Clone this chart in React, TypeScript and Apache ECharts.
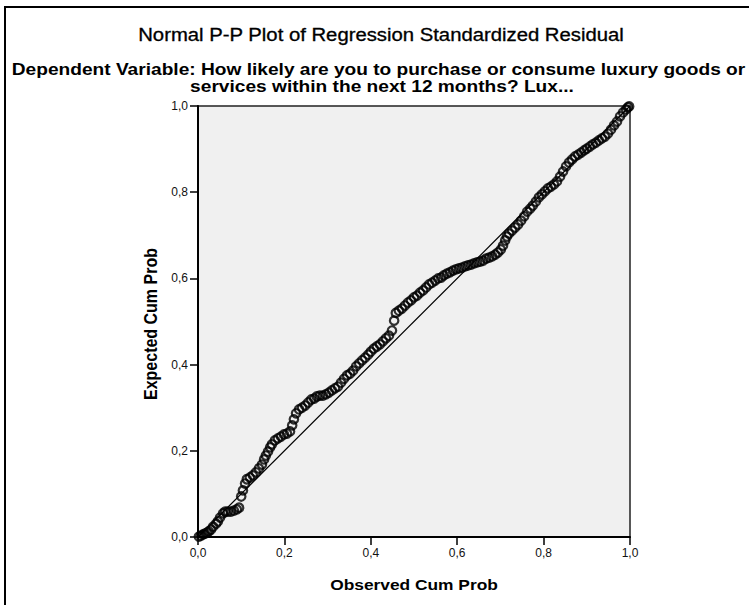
import React, { useEffect, useRef } from "react";
import * as echarts from "echarts";

// ---- Texts ----
const titleText = "Normal P-P Plot of Regression Standardized Residual";
const subtitleLines = [
  "Dependent Variable: How likely are you to purchase or consume luxury goods or",
  "services within the next 12 months? Lux...",
];
const xAxisName = "Observed Cum Prob";
const yAxisName = "Expected Cum Prob";

// ---- Tick labels (SPSS decimal comma) ----
const tickValues = [0, 0.2, 0.4, 0.6, 0.8, 1.0];
const tickLabels = ["0,0", "0,2", "0,4", "0,6", "0,8", "1,0"];

// ---- Data ----
const observed = [
  0.002, 0.007, 0.012, 0.016, 0.021, 0.025, 0.03, 0.035, 0.042, 0.046,
  0.051, 0.058, 0.063, 0.069, 0.076, 0.083, 0.09, 0.095, 0.1, 0.104,
  0.109, 0.113, 0.12, 0.127, 0.134, 0.141, 0.148, 0.153, 0.157, 0.162,
  0.167, 0.171, 0.178, 0.185, 0.192, 0.199, 0.206, 0.213, 0.218, 0.222,
  0.227, 0.234, 0.241, 0.248, 0.255, 0.262, 0.269, 0.275, 0.282, 0.289,
  0.296, 0.303, 0.31, 0.317, 0.324, 0.331, 0.338, 0.345, 0.352, 0.359,
  0.366, 0.373, 0.38, 0.387, 0.394, 0.4, 0.407, 0.414, 0.421, 0.428,
  0.435, 0.442, 0.449, 0.454, 0.458, 0.465, 0.472, 0.479, 0.486, 0.493,
  0.5, 0.507, 0.514, 0.521, 0.528, 0.535, 0.542, 0.549, 0.556, 0.563,
  0.569, 0.576, 0.583, 0.59, 0.597, 0.604, 0.611, 0.618, 0.625, 0.632,
  0.639, 0.646, 0.653, 0.66, 0.667, 0.674, 0.681, 0.688, 0.694, 0.701,
  0.706, 0.711, 0.715, 0.72, 0.727, 0.734, 0.741, 0.748, 0.755, 0.762,
  0.769, 0.775, 0.782, 0.789, 0.796, 0.803, 0.81, 0.817, 0.824, 0.831,
  0.838, 0.845, 0.852, 0.859, 0.866, 0.873, 0.88, 0.887, 0.894, 0.9,
  0.907, 0.914, 0.921, 0.928, 0.935, 0.942, 0.949, 0.956, 0.963, 0.97,
  0.977, 0.984, 0.991, 0.995, 0.998,
];
const expected = [
  0.001, 0.003, 0.006, 0.008, 0.01, 0.013, 0.017, 0.024, 0.031, 0.036,
  0.045, 0.055, 0.059, 0.059, 0.059, 0.061, 0.064, 0.068, 0.094, 0.108,
  0.124, 0.134, 0.138, 0.143, 0.15, 0.159, 0.168, 0.18, 0.189, 0.198,
  0.208, 0.215, 0.224, 0.229, 0.233, 0.238, 0.24, 0.245, 0.259, 0.273,
  0.287, 0.296, 0.3, 0.305, 0.312, 0.319, 0.321, 0.326, 0.328, 0.328,
  0.331, 0.335, 0.34, 0.345, 0.349, 0.358, 0.367, 0.375, 0.379, 0.386,
  0.396, 0.403, 0.41, 0.416, 0.423, 0.43, 0.437, 0.442, 0.447, 0.454,
  0.461, 0.467, 0.479, 0.502, 0.52, 0.525, 0.53, 0.537, 0.544, 0.549,
  0.556, 0.56, 0.567, 0.572, 0.579, 0.586, 0.59, 0.595, 0.6, 0.602,
  0.607, 0.611, 0.614, 0.618, 0.621, 0.623, 0.625, 0.628, 0.63, 0.632,
  0.635, 0.637, 0.639, 0.641, 0.646, 0.648, 0.651, 0.655, 0.66, 0.667,
  0.676, 0.688, 0.697, 0.704, 0.711, 0.718, 0.725, 0.734, 0.744, 0.755,
  0.762, 0.769, 0.778, 0.788, 0.795, 0.802, 0.809, 0.813, 0.818, 0.825,
  0.836, 0.848, 0.86, 0.869, 0.876, 0.883, 0.887, 0.892, 0.897, 0.901,
  0.906, 0.911, 0.915, 0.92, 0.925, 0.929, 0.936, 0.945, 0.955, 0.964,
  0.976, 0.985, 0.992, 0.997, 0.999,
];
const referenceLine = [
  [0, 0],
  [1, 1],
];

const FONT = "'Liberation Sans', Arial, sans-serif";

export default function App() {
  const ref = useRef<HTMLDivElement>(null);

  useEffect(() => {
    if (!ref.current) return;
    const chart = echarts.init(ref.current, null, { renderer: "svg" });
    const points = observed.map((o, i) => [o, expected[i]]);
    const fmt = (v: number) => {
      const idx = tickValues.findIndex((t) => Math.abs(t - v) < 1e-6);
      return idx >= 0 ? tickLabels[idx] : "";
    };
    const axisCommon = {
      type: "value",
      min: 0,
      max: 1,
      interval: 0.2,
      axisLine: { show: true, lineStyle: { color: "#000", width: 2 } },
      axisTick: { show: true, inside: false, length: 8, lineStyle: { color: "#000", width: 1.5 } },
      splitLine: { show: false },
      axisLabel: {
        color: "#111",
        fontSize: 12,
        fontFamily: FONT,
        margin: 10,
        formatter: fmt,
      },
    };
    chart.setOption({
      animation: false,
      backgroundColor: "#ffffff",
      grid: {
        left: 198,
        top: 106,
        width: 432,
        height: 431,
        show: true,
        backgroundColor: "#f0f0f0",
        borderColor: "#222",
        borderWidth: 1.5,
      },
      xAxis: { ...axisCommon },
      yAxis: { ...axisCommon },
      graphic: [
        {
          type: "rect",
          shape: { x: 5, y: 7, width: 770, height: 640 },
          style: { fill: "none", stroke: "#000", lineWidth: 2 },
          silent: true,
        },
        {
          type: "text",
          x: 381,
          y: 34.5,
          scaleX: 1.16,
          style: {
            text: titleText,
            fontSize: 17.5,
            fontFamily: FONT,
            fontWeight: "normal",
            fill: "#000",
            stroke: "#000",
            lineWidth: 0.3,
            align: "center",
            verticalAlign: "middle",
          },
        },
        {
          type: "text",
          x: 378.5,
          y: 69.5,
          scaleX: 1.16,
          style: {
            text: subtitleLines[0],
            fontSize: 16.5,
            fontFamily: FONT,
            fontWeight: "bold",
            fill: "#000",
            align: "center",
            verticalAlign: "middle",
          },
        },
        {
          type: "text",
          x: 382,
          y: 86,
          scaleX: 1.16,
          style: {
            text: subtitleLines[1],
            fontSize: 16.5,
            fontFamily: FONT,
            fontWeight: "bold",
            fill: "#000",
            align: "center",
            verticalAlign: "middle",
          },
        },
        {
          type: "text",
          x: 414,
          y: 584,
          scaleX: 1.12,
          style: {
            text: xAxisName,
            fontSize: 15.5,
            fontFamily: FONT,
            fontWeight: "bold",
            fill: "#000",
            align: "center",
            verticalAlign: "middle",
          },
        },
        {
          type: "text",
          x: 151,
          y: 324,
          rotation: Math.PI / 2,
          scaleY: 1.12,
          style: {
            text: yAxisName,
            fontSize: 16,
            fontFamily: FONT,
            fontWeight: "bold",
            fill: "#000",
            align: "center",
            verticalAlign: "middle",
          },
        },
      ],
      series: [
        {
          type: "line",
          data: referenceLine,
          symbol: "none",
          lineStyle: { color: "#000", width: 1.2 },
          silent: true,
          z: 3,
        },
        {
          type: "scatter",
          data: points,
          symbol: "circle",
          symbolSize: 8.5,
          itemStyle: { color: "rgba(0,0,0,0)", borderColor: "#000", borderWidth: 2.2 },
          z: 2,
        },
      ],
    });
    return () => chart.dispose();
  }, []);

  return (
    <div
      ref={ref}
      style={{ position: "fixed", left: 0, top: 0, width: 749, height: 605, background: "#fff" }}
    />
  );
}
